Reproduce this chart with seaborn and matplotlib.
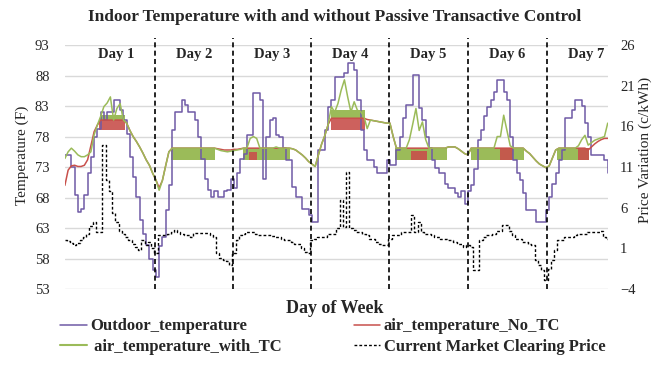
import numpy as np
import pandas as pd
import matplotlib
matplotlib.use('Agg')
import matplotlib.pyplot as plt
import seaborn as sns
from matplotlib.lines import Line2D

# hourly readings over the week (hour 0 .. 167)
outdoor = [75, 75, 73, 68.4, 65.7, 66.2, 68.4, 72, 74.7, 78,
           79.3, 82.1, 80.7, 82.1, 82.1, 84, 84, 82.3, 80.7, 78.5,
           74.7, 71.4, 68.1, 64.3, 62.1, 60.2, 58, 56.1, 55, 60,
           61.6, 66, 70, 79.1, 82.1, 82.1, 84, 83.2, 82.1, 82.1,
           80.7, 78, 74.4, 71.1, 69.2, 68.1, 69, 68.1, 68.1, 69,
           69.2, 71.1, 69.5, 72, 74.4, 75.2, 78.2, 78.2, 85.1, 85.1,
           84, 71.1, 78, 80.7, 81, 78.2, 78, 76.1, 74.1, 74.1,
           69.8, 68.1, 68.1, 66.2, 66.2, 65.1, 64, 64, 75.8, 75.8,
           79.1, 82.9, 84, 87.8, 87.8, 87.8, 88.4, 90, 90, 88.9,
           84, 79.1, 75.8, 74.1, 74.1, 73, 72, 72, 72, 74.1,
           73.3, 73.3, 75.8, 78, 81, 83.2, 83.2, 88.1, 88.1, 82.6,
           80.7, 78, 76.1, 74.1, 72.8, 72, 72, 70.3, 69.5, 69.5,
           68.7, 68.1, 69, 67, 69, 70, 72.7, 77.4, 79, 81.3,
           82.9, 84, 85.3, 87.3, 87.3, 85.3, 84, 78, 74.1, 72,
           70.9, 68.7, 66, 66, 66, 64, 64, 64, 66, 68.1,
           70.3, 72, 74.1, 75.8, 81, 81, 82.3, 84, 84, 83,
           80.2, 78, 75, 75, 75, 75, 74.1, 72]

with_tc = [74.4, 75.5, 76.1, 75.6, 75.0, 74.7, 74.7, 75.0, 75.5, 78.3,
           79.9, 81.3, 82.9, 83.5, 84.5, 80.7, 82.6, 83.4, 80.7, 80.2,
           79.0, 78.0, 77.2, 76.3, 75.3, 74.2, 73.3, 72.0, 70.9, 69.2,
           70.8, 73.2, 75.5, 76.1, 76.1, 76.1, 76.1, 76.1, 76.1, 76.1,
           76.1, 76.1, 76.1, 76.1, 76.1, 76.1, 76.1, 75.9, 75.7, 75.6,
           75.5, 75.6, 75.7, 75.8, 75.9, 76.1, 76.1, 77.7, 78.0, 77.7,
           76.1, 76.1, 76.1, 76.1, 76.1, 76.3, 76.1, 76.1, 76.1, 76.1,
           76.0, 75.8, 75.4, 75.0, 74.5, 73.9, 73.5, 73.1, 75.0, 76.8,
           78.2, 80.0, 82.9, 82.0, 83.4, 85.6, 87.3, 84.5, 82.0, 83.7,
           82.3, 82.1, 81.3, 79.3, 80.7, 80.6, 80.5, 80.4, 80.3, 80.2,
           80.2, 78.0, 76.1, 76.1, 76.1, 76.1, 77.5, 80.0, 82.6, 79.0,
           80.4, 77.5, 76.1, 76.1, 76.1, 76.1, 76.1, 76.1, 76.3, 76.3,
           76.3, 76.0, 75.6, 75.2, 75.0, 76.1, 76.1, 76.1, 76.1, 76.1,
           76.1, 76.1, 76.1, 78.0, 78.0, 81.5, 79.0, 76.5, 76.1, 76.1,
           76.1, 76.1, 75.6, 75.2, 74.6, 74.0, 73.5, 73.2, 72.9, 73.2,
           74.5, 75.8, 76.1, 76.1, 76.1, 76.1, 76.1, 76.1, 76.5, 77.5,
           78.2, 76.6, 77.0, 77.4, 77.6, 77.8, 78.0, 80.2]

no_tc = [70.0, 72.5, 73.2, 73.3, 73.1, 73.1, 73.3, 74.2, 76.5, 78.8,
         79.9, 80.7, 80.7, 80.7, 80.7, 80.7, 80.7, 80.7, 80.7, 80.2,
         79.0, 78.0, 77.2, 76.3, 75.3, 74.2, 73.3, 72.0, 70.9, 69.6,
         70.8, 73.2, 75.5, 76.1, 76.1, 76.1, 76.1, 76.1, 76.1, 76.1,
         76.1, 76.1, 76.1, 76.1, 76.1, 76.1, 76.1, 76.0, 75.9, 75.8,
         75.8, 75.8, 75.9, 75.9, 76.0, 76.1, 76.1, 76.1, 76.1, 76.1,
         76.1, 76.1, 76.1, 76.1, 76.1, 76.1, 76.1, 76.1, 76.1, 76.1,
         76.0, 75.8, 75.4, 75.0, 74.5, 73.9, 73.5, 73.1, 75.0, 76.8,
         78.2, 80.0, 81.0, 81.0, 81.0, 81.0, 81.0, 81.0, 81.0, 81.0,
         81.0, 81.0, 81.0, 80.8, 80.7, 80.6, 80.5, 80.4, 80.3, 80.2,
         80.2, 78.0, 76.1, 76.1, 76.1, 76.1, 76.1, 76.1, 76.1, 76.1,
         76.1, 76.1, 76.1, 76.1, 76.1, 76.1, 76.1, 76.1, 76.3, 76.3,
         76.3, 76.0, 75.6, 75.2, 75.0, 76.1, 76.1, 76.1, 76.1, 76.1,
         76.1, 76.1, 76.1, 76.1, 76.1, 76.1, 76.1, 76.1, 76.1, 76.1,
         76.1, 76.1, 75.6, 75.2, 74.6, 74.0, 73.5, 73.2, 72.9, 73.2,
         74.5, 75.8, 76.1, 76.1, 76.1, 76.1, 76.1, 76.1, 76.1, 76.1,
         76.1, 75.8, 76.3, 76.8, 77.2, 77.5, 77.7, 77.7]

price = [2.0, 1.9, 1.7, 1.4, 1.7, 2.0, 2.4, 2.8, 3.7, 4.3,
         3.0, 3.0, 13.7, 9.4, 8.0, 5.3, 4.3, 3.2, 2.8, 2.4,
         2.0, 1.6, 1.2, 0.8, 2.0, 1.4, 1.8, 1.0, 0.4, 2.6,
         2.6, 2.6, 2.8, 3.0, 3.3, 3.0, 2.8, 2.6, 2.6, 2.4,
         2.9, 2.9, 2.9, 2.9, 2.9, 2.6, 2.4, 0.4, -0.2, -0.4,
         -0.6, -1.0, 0.4, 2.0, 2.6, 2.8, 3.0, 3.0, 3.0, 2.8,
         2.6, 2.6, 2.6, 2.6, 2.5, 2.4, 2.4, 2.2, 2.0, 2.0,
         1.8, 1.6, 1.6, 1.0, 0.6, 0.4, 2.0, 2.2, 2.4, 2.4,
         2.4, 2.8, 2.8, 2.8, 3.5, 6.9, 3.6, 10.4, 3.5, 3.3,
         3.0, 3.0, 2.8, 2.6, 2.2, 2.2, 1.8, 1.6, 1.4, 1.4,
         2.2, 2.6, 2.6, 2.6, 3.0, 3.0, 3.0, 5.1, 3.0, 4.3,
         3.0, 2.8, 2.8, 2.6, 2.4, 2.4, 2.2, 2.2, 2.0, 2.0,
         1.8, 1.6, 1.6, 1.2, 1.4, 1.2, -1.7, -1.7, 2.0, 2.4,
         2.6, 2.6, 2.8, 3.2, 3.2, 3.9, 3.9, 3.2, 2.6, 2.2,
         2.2, 1.8, 1.8, 1.6, 1.4, -0.4, -1.0, -1.7, -2.9, -1.5,
         -0.4, 0.8, 2.0, 2.0, 2.4, 2.4, 2.4, 2.6, 2.8, 2.8,
         2.8, 3.0, 3.0, 3.0, 3.0, 3.2, 2.4, 2.2]

# hours where the thermostat cycles rapidly (start, end, low, high)
tc_band_start = [10.8, 32.5, 54.7, 81.8, 101.7, 124.8, 151.4]
tc_band_end = [18.5, 46.1, 69.2, 92.3, 117.6, 141.1, 161.1]
tc_band_lo = [80.5, 74.1, 74.1, 80.8, 74.1, 74.1, 74.1]
tc_band_hi = [81.5, 76.1, 76.1, 82.3, 76.1, 76.1, 76.1]

notc_band_start = [10.6, 81.8, 56.5, 106.5, 134.0, 158.0]
notc_band_end = [18.6, 92.3, 59.2, 111.5, 137.8, 161.1]
notc_band_lo = [79.1, 79.1, 74.1, 74.1, 74.1, 74.1]
notc_band_hi = [80.7, 81.0, 75.4, 75.6, 76.1, 76.1]

day_lines = [27.7, 51.7, 75.7, 99.8, 124.0, 148.3]
day_names = ['Day 1', 'Day 2', 'Day 3', 'Day 4', 'Day 5', 'Day 6', 'Day 7']

df = pd.DataFrame({'hour': np.arange(len(outdoor)), 'outdoor': outdoor,
                   'no_tc': no_tc, 'with_tc': with_tc, 'price': price})

c_out = '#6f5aa6'
c_red = '#c8504b'
c_green = '#9bbb59'

sns.set_style('white')
plt.rcParams['font.family'] = ['Liberation Serif', 'DejaVu Serif']

fig = plt.figure(figsize=(6.62, 3.66), dpi=100)
ax = fig.add_axes([0.098, 0.21, 0.82, 0.667])

sns.lineplot(data=df, x='hour', y='outdoor', ax=ax, color=c_out, lw=1.1, drawstyle='steps-post')
sns.lineplot(data=df, x='hour', y='no_tc', ax=ax, color=c_red, lw=1.1)
sns.lineplot(data=df, x='hour', y='with_tc', ax=ax, color=c_green, lw=1.1)
for s, e, lo, hi in zip(tc_band_start, tc_band_end, tc_band_lo, tc_band_hi):
    ax.fill_between([s, e], [lo, lo], [hi, hi], color=c_green, lw=0)
for s, e, lo, hi in zip(notc_band_start, notc_band_end, notc_band_lo, notc_band_hi):
    ax.fill_between([s, e], [lo, lo], [hi, hi], color=c_red, lw=0, alpha=0.9)

ax.set_xlim(0, 167)
ax.set_ylim(53, 93)
ax.set_yticks(range(53, 94, 5))
ax.set_xticks([])
ax.set_xlabel('')
ax.set_ylabel('')
ax.grid(axis='y', color='#d9d9d9', lw=1)
ax.tick_params(axis='y', length=0, pad=11, labelsize=10.5)
for sp in ax.spines.values():
    sp.set_visible(False)

ax2 = ax.twinx()
sns.lineplot(data=df, x='hour', y='price', ax=ax2, color='black', lw=1.0,
             linestyle=(0, (2, 1.5)), drawstyle='steps-mid')
ax2.set_ylim(-4, 26)
ax2.set_yticks(range(-4, 27, 5))
ax2.set_ylabel('')
ax2.tick_params(axis='y', length=0, pad=9, labelsize=10.5)
for sp in ax2.spines.values():
    sp.set_visible(False)

for d in day_lines:
    ax2.axvline(d, ymin=0, ymax=1.03, color='black', lw=1.2, ls=(0, (3, 2)), clip_on=False)

edges = [day_lines[0] - 24] + day_lines + [day_lines[-1] + 24]
for i, name in enumerate(day_names):
    ax.text((edges[i] + edges[i + 1]) / 2, 91.5, name, ha='center', va='center',
            fontsize=10.5, fontweight='bold')

fig.text(0.506, 0.954, 'Indoor Temperature with and without Passive Transactive Control',
         ha='center', va='center', fontsize=12.5, fontweight='bold')
fig.text(0.506, 0.158, 'Day of Week', ha='center', va='center', fontsize=13, fontweight='bold')
fig.text(0.033, 0.577, 'Temperature (F)', rotation=90, ha='center', va='center', fontsize=11)
fig.text(0.974, 0.59, 'Price Variation (c/kWh)', rotation=90, ha='center', va='center', fontsize=11)

handles = [Line2D([], [], color=c_out, lw=1.1),
           Line2D([], [], color=c_green, lw=1.5),
           Line2D([], [], color=c_red, lw=1.1),
           Line2D([], [], color='black', lw=1.0, ls=(0, (2, 1.5)))]
labels = ['Outdoor_temperature', ' air_temperature_with_TC',
          'air_temperature_No_TC', 'Current Market Clearing Price']
fig.legend(handles, labels, ncol=2, loc='upper left', bbox_to_anchor=(0.091, 0.13),
           frameon=False, prop={'weight': 'bold', 'size': 12}, handlelength=1.6,
           handletextpad=0.2, columnspacing=4.3, labelspacing=0.25,
           borderaxespad=0, borderpad=0)

fig.savefig('out.png', dpi=100)
